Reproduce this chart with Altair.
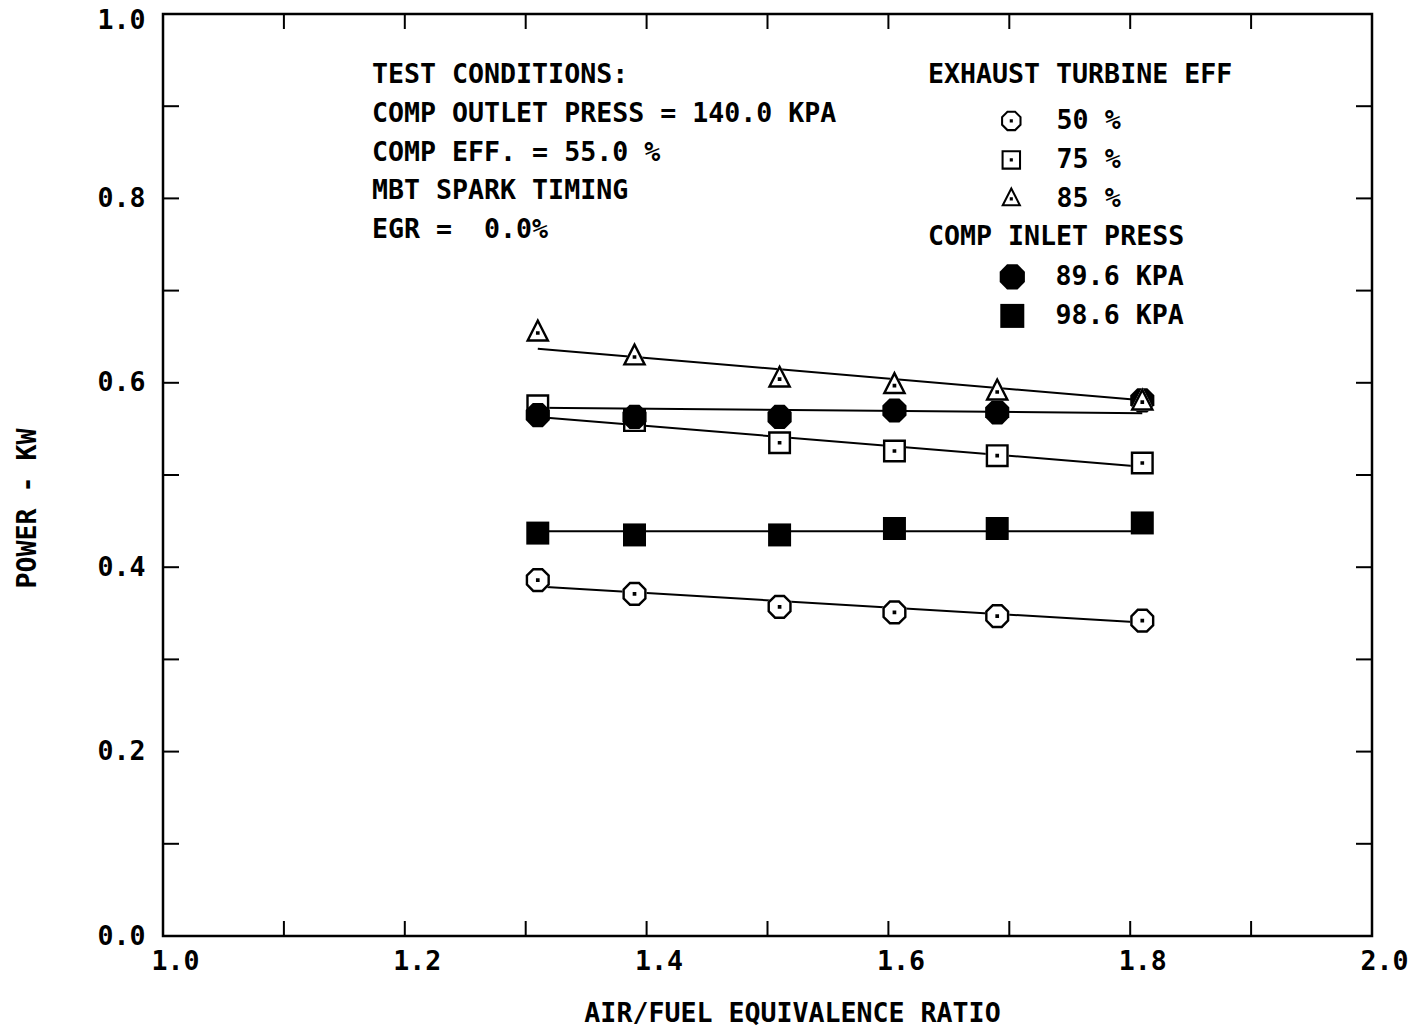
import altair as alt
import pandas as pd

FONT = "DejaVu Sans Mono"
FW = "bold"
FS = 26.6

# ---- data ----
x_vals = [1.31, 1.39, 1.51, 1.605, 1.69, 1.81]

eff_labels = ["50 %", "75 %", "85 %"]
eff50 = [0.386, 0.371, 0.357, 0.351, 0.347, 0.342]
eff75 = [0.575, 0.559, 0.535, 0.526, 0.521, 0.513]
eff85 = [0.654, 0.628, 0.604, 0.597, 0.590, 0.579]

press_labels = ["89.6 KPA", "98.6 KPA"]
p896 = [0.565, 0.563, 0.563, 0.570, 0.568, 0.581]
p986 = [0.437, 0.435, 0.435, 0.442, 0.442, 0.448]

fit_series = ["50 %", "75 %", "85 %", "89.6 KPA", "98.6 KPA"]
fit_start = [0.379, 0.563, 0.637, 0.573, 0.439]
fit_end = [0.340, 0.509, 0.581, 0.567, 0.439]

x_major = [1.0, 1.2, 1.4, 1.6, 1.8, 2.0]
y_major = [0.0, 0.2, 0.4, 0.6, 0.8, 1.0]
x_minor = [1.1, 1.2, 1.3, 1.4, 1.5, 1.6, 1.7, 1.8, 1.9]
y_minor = [0.1, 0.2, 0.3, 0.4, 0.5, 0.6, 0.7, 0.8, 0.9]

notes = [
    "TEST CONDITIONS:",
    "COMP OUTLET PRESS = 140.0 KPA",
    "COMP EFF. = 55.0 %",
    "MBT SPARK TIMING",
    "EGR =\u00a0 0.0%",
]

# ---- tables ----
open_df = pd.DataFrame({
    "x": x_vals * 2,
    "y": eff50 + eff75,
    "eff": [eff_labels[0]] * len(x_vals) + [eff_labels[1]] * len(x_vals),
})
tri_df = pd.DataFrame({"x": x_vals, "y": eff85, "eff": [eff_labels[2]] * len(x_vals)})
filled_df = pd.DataFrame({
    "x": x_vals * 2,
    "y": p896 + p986,
    "press": [press_labels[0]] * len(x_vals) + [press_labels[1]] * len(x_vals),
})
fit_rows = []
for s, a, b in zip(fit_series, fit_start, fit_end):
    fit_rows.append({"x": x_vals[0], "y": a, "series": s})
    fit_rows.append({"x": x_vals[-1], "y": b, "series": s})
fit_df = pd.DataFrame(fit_rows)
xt_df = pd.DataFrame({"x": x_minor})
yt_df = pd.DataFrame({"y": y_minor})


# ---- marker shapes (custom symbol paths, unit = sqrt(size)/2) ----
def poly(pts):
    return "M " + " L ".join(f"{px:.3f} {py:.3f}" for px, py in pts) + " Z"


def oct_pts(r):
    k = 0.414 * r
    return [(-k, -r), (k, -r), (r, -k), (r, k), (k, r), (-k, r), (-r, k), (-r, -k)]


def sq_pts(r):
    return [(-r, -r), (r, -r), (r, r), (-r, r)]


def tri_pts(f):
    # isosceles triangle scaled about its incenter (0, 0.108)
    cy = 0.108
    base = [(0.0, -1.3), (1.05, 0.75), (-1.05, 0.75)]
    return [(px * f, cy + (py - cy) * f) for px, py in base]


T = 0.21
DOT = " " + poly(sq_pts(0.16))
OCT_SOLID = poly(oct_pts(1.05))
SQ_SOLID = poly(sq_pts(1.0))
TRI_SOLID = poly(tri_pts(1.0))
OCT_RING = poly(oct_pts(1.05)) + " " + poly(oct_pts(1.05 - T)[::-1]) + DOT
SQ_RING = poly(sq_pts(1.0)) + " " + poly(sq_pts(1.0 - T)[::-1]) + DOT
TRI_RING = poly(tri_pts(1.0)) + " " + poly(tri_pts((0.642 - T) / 0.642)[::-1]) + DOT

W, H = 1209, 922
MS = 529

xs = alt.Scale(domain=[1.0, 2.0], nice=False, zero=False)
ys = alt.Scale(domain=[0.0, 1.0], nice=False, zero=False)

common_axis = dict(ticks=False, domain=False, grid=False, labelFlush=False,
                   labelFontSize=FS, labelFont=FONT, labelFontWeight=FW,
                   labelColor="black", titleFont=FONT, titleFontSize=FS,
                   titleFontWeight=FW, titleColor="black",
                   titleBaseline="middle", titleAlign="center")
x_axis = alt.Axis(values=x_major, format=".1f", title="AIR/FUEL EQUIVALENCE RATIO",
                  labelPadding=12, labelOffset=12,
                  titleX=629, titleY=77, **common_axis)
y_axis = alt.Axis(values=y_major, format=".1f", title="POWER - KW",
                  labelPadding=18, titleX=-136, titleY=494, titleAngle=270,
                  labelBaseline="middle",
                  labelOffset={"condition": {"test": "datum.value >= 1", "value": 6},
                               "value": 0},
                  **common_axis)

X = alt.X("x:Q", scale=xs, axis=x_axis)
Y = alt.Y("y:Q", scale=ys, axis=y_axis)

# ---- tick marks (inward) ----
tick_style = dict(color="black", strokeWidth=2)
t_bottom = alt.Chart(xt_df).mark_rule(**tick_style).encode(x=X, y=alt.value(H), y2=alt.value(H - 15))
t_top = alt.Chart(xt_df).mark_rule(**tick_style).encode(x=X, y=alt.value(0), y2=alt.value(15))
t_left = alt.Chart(yt_df).mark_rule(**tick_style).encode(y=Y, x=alt.value(0), x2=alt.value(16))
t_right = alt.Chart(yt_df).mark_rule(**tick_style).encode(y=Y, x=alt.value(W), x2=alt.value(W - 16))

# ---- fit lines ----
lines = alt.Chart(fit_df).mark_line(color="black", strokeWidth=2).encode(
    x=X, y=Y, detail="series:N")

common_legend = dict(orient="none", legendX=765, padding=0, rowPadding=12,
                     labelFont=FONT, titleFont=FONT, labelFontSize=FS,
                     titleFontSize=FS, labelFontWeight=FW, titleFontWeight=FW,
                     labelColor="black", titleColor="black",
                     symbolFillColor="black", symbolStrokeColor="black",
                     symbolStrokeWidth=0, titleLimit=600, labelLimit=400)
eff_legend = alt.Legend(title="EXHAUST TURBINE EFF", legendY=48,
                        symbolOffset=70, symbolSize=380,
                        labelOffset=32, titlePadding=19, **common_legend)
press_legend = alt.Legend(title="COMP INLET PRESS", legendY=210,
                          symbolOffset=71, symbolSize=576,
                          labelOffset=30, titlePadding=13, **common_legend)

pt_style = dict(filled=True, opacity=1, fillOpacity=1, strokeWidth=0, size=MS)

# white interiors of the open markers (hide the lines behind them)
open_under = alt.Chart(open_df).mark_point(fill="white", **pt_style).encode(
    x=X, y=Y, shape=alt.Shape("eff:N", scale=alt.Scale(
        domain=eff_labels, range=[OCT_SOLID, SQ_SOLID, TRI_SOLID]), legend=None))
open_ring = alt.Chart(open_df).mark_point(fill="black", **pt_style).encode(
    x=X, y=Y, shape=alt.Shape("eff:N", scale=alt.Scale(
        domain=eff_labels, range=[OCT_RING, SQ_RING, TRI_RING]), legend=eff_legend))

filled_pts = alt.Chart(filled_df).mark_point(fill="black", **pt_style).encode(
    x=X, y=Y, shape=alt.Shape("press:N", scale=alt.Scale(
        domain=press_labels, range=[OCT_SOLID, SQ_SOLID]), legend=press_legend))

tri_under = alt.Chart(tri_df).mark_point(fill="white", **pt_style).encode(
    x=X, y=Y, shape=alt.Shape("eff:N", scale=alt.Scale(
        domain=eff_labels, range=[OCT_SOLID, SQ_SOLID, TRI_SOLID]), legend=None))
tri_ring = alt.Chart(tri_df).mark_point(fill="black", **pt_style).encode(
    x=X, y=Y, shape=alt.Shape("eff:N", scale=alt.Scale(
        domain=eff_labels, range=[OCT_RING, SQ_RING, TRI_RING]), legend=None))

note_text = alt.Chart(pd.DataFrame({"k": [0]})).mark_text(
    text=notes, align="left", baseline="alphabetic", font=FONT, fontSize=FS,
    fontWeight=FW, lineHeight=38.75, color="black").encode(
    x=alt.value(209), y=alt.value(69))

chart = alt.layer(
    t_bottom, t_top, t_left, t_right, lines,
    open_under, open_ring, filled_pts, tri_under, tri_ring, note_text
).resolve_scale(shape="independent").properties(
    width=W, height=H,
    autosize=alt.AutoSizeParams(type="none"),
    padding={"left": 163, "top": 14, "right": 37, "bottom": 93},
    background="white",
).configure(font=FONT).configure_view(stroke="black", strokeWidth=2.5)

chart.save("out.html", embed_options={"renderer": "svg", "actions": False})
